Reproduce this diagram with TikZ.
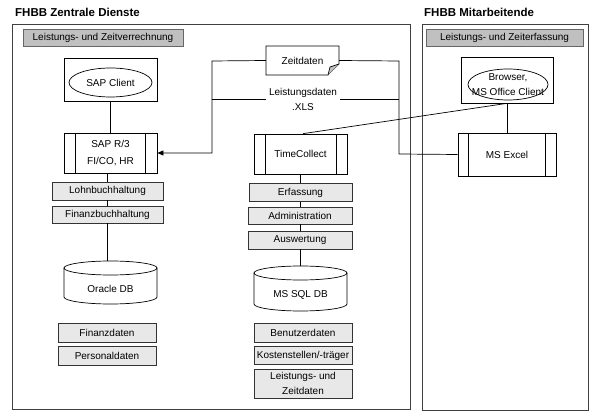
\documentclass[tikz,border=0pt]{standalone}
\usepackage{fontspec}
\setmainfont{Liberation Sans}
\usetikzlibrary{arrows.meta,shapes.geometric}
\definecolor{hdrgray}{HTML}{C0C0C0}
\definecolor{boxgray}{HTML}{E8E8E8}
\definecolor{framegray}{HTML}{404040}
\begin{document}
\begin{tikzpicture}[x=1pt,y=-1pt,
  every node/.style={font=\fontsize{10}{14.5}\selectfont, inner sep=0pt},
  frame/.style={draw=framegray, line width=0.9pt},
  title/.style={font=\fontsize{11.5}{13}\selectfont\bfseries, anchor=base west},
  hdr/.style={draw=gray!80!black, fill=hdrgray, line width=0.8pt, minimum width=160pt, minimum height=17pt},
  lbox/.style={draw=black!80, fill=boxgray, line width=0.7pt, minimum height=18pt},
  wbox/.style={draw=black, line width=0.7pt, fill=white},
  oval/.style={draw=black, ellipse, line width=0.7pt},
  proc/.style={draw=black, line width=0.7pt, minimum width=93pt, minimum height=40pt, align=center},
  conn/.style={draw=black, line width=0.7pt},
]
\useasboundingbox (0,0) rectangle (600,419);
\fill[white] (0,0) rectangle (600,419);

% frames and titles
\draw[frame] (12,24) rectangle (410,409);
\draw[frame] (422,24) rectangle (588,410);
\node[title] (t1) at (15,17) {FHBB Zentrale Dienste};
\node[title] (t2) at (424,17) {FHBB Mitarbeitende};
\node[hdr] (h1) at (103,37.5) {Leistungs- und Zeitverrechnung};
\node[hdr, minimum width=157pt] (h2) at (504.5,37.5) {Leistungs- und Zeiterfassung};

% SAP client
\node[wbox, minimum width=93pt, minimum height=43pt] (sapbox) at (110.5,79.5) {};
\node[oval, minimum width=83pt, minimum height=29pt] (sapcl) at (110.5,82.5) {SAP Client};

% SAP R/3
\node[proc, font=\fontsize{10}{16.5}\selectfont] (sapr3) at (110.5,153) {SAP R/3\\FI/CO, HR};
\draw[conn] ([xshift=12pt]sapr3.north west) -- ([xshift=12pt]sapr3.south west);
\draw[conn] ([xshift=-12pt]sapr3.north east) -- ([xshift=-12pt]sapr3.south east);

\node[lbox, minimum width=111pt] (lohn) at (107.5,191) {Lohnbuchhaltung};
\node[lbox, minimum width=111pt, minimum height=17pt] (finanz) at (107.5,214.5) {Finanzbuchhaltung};

% Oracle DB
\draw[conn, fill=white] (64,268) -- (64,297) arc[start angle=180, end angle=360, x radius=46.5pt, y radius=7pt] -- (157,268);
\draw[conn] (110.5,268) ellipse [x radius=46.5pt, y radius=7pt];
\node[minimum width=93pt, minimum height=43pt] (oracle) at (110.5,289) {Oracle DB};

\node[lbox, minimum width=98pt, minimum height=19pt] (fdat) at (107,332.5) {Finanzdaten};
\node[lbox, minimum width=98pt, minimum height=19pt] (pdat) at (107,355.5) {Personaldaten};

\draw[conn] (sapbox.south) -- (sapr3.north);
\draw[conn] (sapr3.south -| lohn) -- (lohn.north);
\draw[conn] (lohn.south) -- (finanz.north);
\draw[conn] (finanz.south) -- (107.5,261);

% TimeCollect
\node[proc] (tc) at (300.5,154) {TimeCollect};
\draw[conn] ([xshift=12pt]tc.north west) -- ([xshift=12pt]tc.south west);
\draw[conn] ([xshift=-11pt]tc.north east) -- ([xshift=-11pt]tc.south east);

\node[lbox, minimum width=103pt] (erf) at (300.5,192.5) {Erfassung};
\node[lbox, minimum width=104pt, minimum height=17pt] (adm) at (300,215.5) {Administration};
\node[lbox, minimum width=104pt] (ausw) at (300,240) {Auswertung};

% MS SQL DB
\draw[conn, fill=white] (254,273) -- (254,304) arc[start angle=180, end angle=360, x radius=46.5pt, y radius=7pt] -- (347,273);
\draw[conn] (300.5,273) ellipse [x radius=46.5pt, y radius=7pt];
\node[minimum width=93pt, minimum height=45pt] (mssql) at (300.5,295) {MS SQL DB};

\node[lbox, minimum width=98pt, minimum height=19pt] (bdat) at (303,332.5) {Benutzerdaten};
\node[lbox, minimum width=98pt, minimum height=18pt] (kdat) at (303,355.5) {Kostenstellen/-träger};
\node[lbox, minimum width=98pt, minimum height=29pt, align=center] (ldat) at (303,383.5) {Leistungs- und\\Zeitdaten};

\draw[conn] (tc.south) -- (erf.north -| tc.south);
\draw[conn] (erf.south -| tc.south) -- (adm.north -| tc.south);
\draw[conn] (adm.south -| tc.south) -- (ausw.north -| tc.south);
\draw[conn] (ausw.south -| tc.south) -- (300.5,266);

% Zeitdaten document
\node[minimum width=73pt, minimum height=29pt] (zeit) at (302.5,60.5) {Zeitdaten};
\draw[conn] (266,46) -- (339,46) -- (339,64) -- (328,75) -- (266,75) -- cycle;
\draw[conn, fill=hdrgray] (339,64) -- (330,67) -- (328,75);
\node[align=center] (leist) at (303,99.5) {Leistungsdaten\\.XLS};

% Right side
\node[wbox, minimum width=92pt, minimum height=46pt] (brbox) at (507,80) {};
\draw[conn] (508,84.5) ellipse [x radius=40pt, y radius=15.5pt];
\node[align=center] (brow) at (508,84.5) {Browser,\\MS Office Client};

\node[proc, minimum width=98pt, minimum height=43pt] (excel) at (507,154.5) {MS Excel};
\draw[conn] ([xshift=11pt]excel.north west) -- ([xshift=11pt]excel.south west);
\draw[conn] ([xshift=-11pt]excel.north east) -- ([xshift=-11pt]excel.south east);

% connectors
\coordinate (jl1) at (212,61);
\coordinate (jl2) at (212,153);
\coordinate (jl3) at (212,99);
\coordinate (jr1) at (399,61);
\coordinate (jr2) at (399,154);
\coordinate (jr3) at (399,99);
\draw[conn, -{Triangle[length=6pt,width=5pt]}] (zeit.west) -- (jl1) -- (jl2) -- (sapr3.east);
\draw[conn] (jl3) -- ([xshift=-3pt]leist.west |- jl3);
\draw[conn] ([xshift=3pt]leist.east |- jr3) -- (jr3);
\draw[conn] (zeit.east) -- (jr1) -- (jr2) -- (excel.west);
\draw[conn] (brbox.south) -- (excel.north);
\draw[conn] (brbox.south) -- ([xshift=2.5pt]tc.north);
\end{tikzpicture}
\end{document}
